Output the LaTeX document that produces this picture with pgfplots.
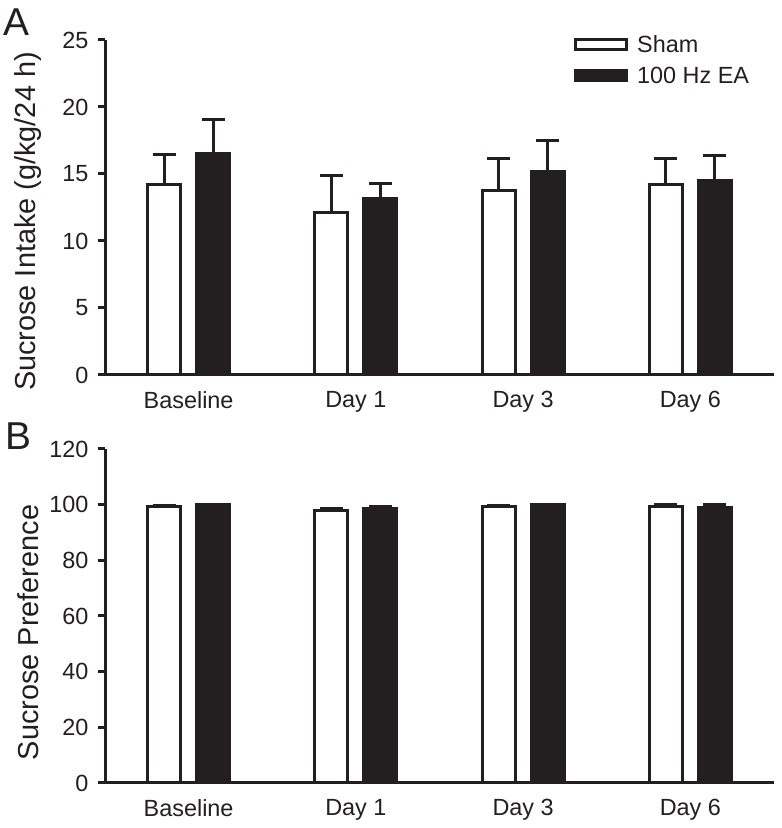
\documentclass[border=0pt]{standalone}
\usepackage{fontspec}
\setmainfont{Liberation Sans}
\usepackage{pgfplots}
\usepackage{pgfplotstable}
\pgfplotsset{compat=1.18}
\definecolor{ink}{RGB}{35,31,32}

\pgfplotstableread{
x y e
0 14.25 2.20
1 12.15 2.70
2 13.75 2.37
3 14.18 2.01
}\shamA
\pgfplotstableread{
x y e
0 16.55 2.55
1 13.19 1.09
2 15.22 2.27
3 14.48 1.91
}\eaA
\pgfplotstableread{
x y e
0 99.5 0.3
1 97.8 0.7
2 99.4 0.4
3 99.5 0.4
}\shamB
\pgfplotstableread{
x y e
0 99.9 0.15
1 98.6 0.7
2 99.9 0.15
3 99.0 0.9
}\eaB

\pgfplotsset{
  common/.style={
    scale only axis, width=669bp,
    xmin=-0.5, xmax=3.5, ymin=0,
    axis x line*=bottom, axis y line*=left,
    axis line style={-, line width=3bp, ink},
    xtick={0,1,2,3}, xticklabels={Baseline, Day 1, Day 3, Day 6},
    x tick style={draw=none},
    y tick style={line width=3bp, ink},
    tick align=outside, major tick length=7bp,
    ybar=16bp, bar width=33bp,
    tick label style={font=\fontsize{23.5}{27}\selectfont, text=ink},
    xticklabel style={yshift=-6bp},
    yticklabel style={xshift=-6bp},
    /pgf/number format/assume math mode=true,
    clip=false,
    legend image code/.code={\draw[##1, line width=3bp] (0bp,-5bp) rectangle (51bp,5bp);},
  },
  shamstyle/.style={fill=white, draw=ink, line width=3bp,
    error bars/.cd, y dir=plus, y explicit,
    error bar style={line width=3bp, ink},
    error mark options={rotate=90, mark size=11.5bp, line width=3bp, ink}},
  eastyle/.style={fill=ink, draw=ink, line width=3bp,
    error bars/.cd, y dir=plus, y explicit,
    error bar style={line width=3bp, ink},
    error mark options={rotate=90, mark size=11.5bp, line width=3bp, ink}},
}

\begin{document}
\begin{tikzpicture}[x=1bp,y=1bp]
\useasboundingbox (0,0) rectangle (782,828);

\begin{axis}[common, height=335bp, at={(105bp,453bp)}, anchor=south west,
  ymax=25, ytick={0,5,10,15,20,25},
  ylabel={Sucrose Intake (g/kg/24 h)},
  every axis y label/.style={at={(axis description cs:-0.1046,0.458)}, rotate=90, anchor=base,
    font=\fontsize{29}{34}\selectfont, text=ink},
  legend style={draw=none, fill=none, at={(axis description cs:0.701,1.02)}, anchor=north west,
    inner sep=0pt, font=\fontsize{23.5}{27}\selectfont, text=ink, row sep=9bp,
    nodes={inner xsep=9bp}},
  legend cell align=left,
]
\addplot[shamstyle] table[x=x, y=y, y error=e] {\shamA};
\addlegendentry{Sham}
\addplot[eastyle] table[x=x, y=y, y error=e] {\eaA};
\addlegendentry{100 Hz EA}
\end{axis}

\begin{axis}[common, height=334bp, at={(105bp,45bp)}, anchor=south west,
  ymax=120, ytick={0,20,40,60,80,100,120},
  ylabel={Sucrose Preference},
  every axis y label/.style={at={(axis description cs:-0.0987,0.451)}, rotate=90, anchor=base,
    font=\fontsize{29}{34}\selectfont, text=ink},
]
\addplot[shamstyle] table[x=x, y=y, y error=e] {\shamB};
\addplot[eastyle] table[x=x, y=y, y error=e] {\eaB};
\end{axis}

\node[anchor=base west, font=\fontsize{39}{44}\selectfont, text=ink, inner sep=0pt] at (3,792) {A};
\node[anchor=base west, font=\fontsize{39}{44}\selectfont, text=ink, inner sep=0pt] at (5,378) {B};
\end{tikzpicture}
\end{document}
